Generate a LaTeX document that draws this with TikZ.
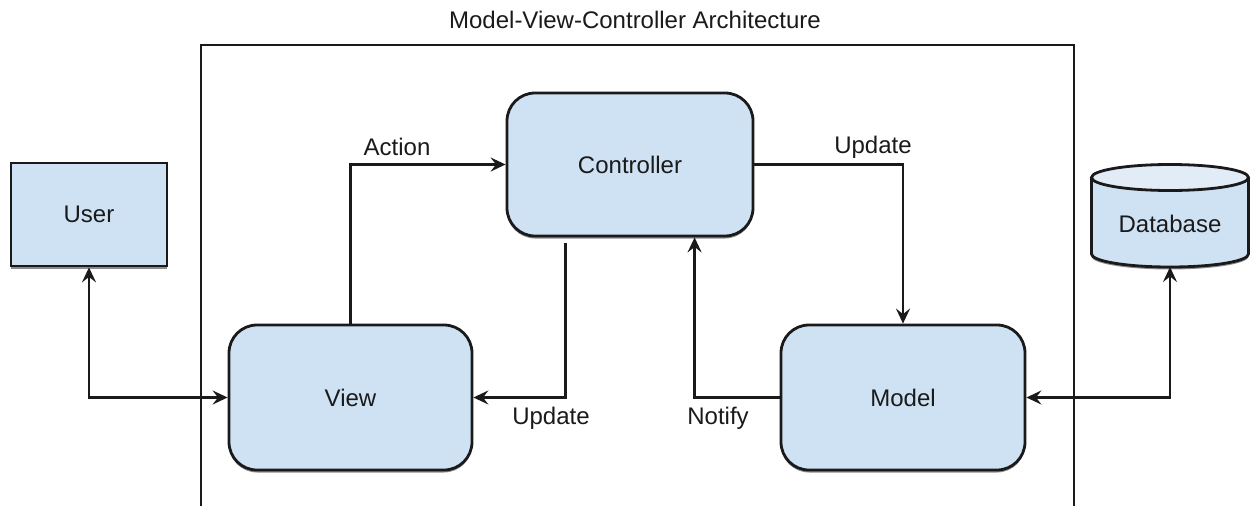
\documentclass[tikz,border=0pt]{standalone}
\usepackage{fontspec}
\setmainfont{Liberation Sans}
\usetikzlibrary{arrows.meta,shadows,calc}
\definecolor{boxfill}{HTML}{CFE2F3}
\definecolor{dbtop}{HTML}{E2ECF7}
\definecolor{ink}{HTML}{1A1A1A}
\begin{document}
\begin{tikzpicture}[x=1pt,y=-1pt,
  every node/.style={font=\fontsize{24}{28}\selectfont, text=ink},
  sh/.style={drop shadow={shadow xshift=0pt,shadow yshift=-2.5pt,opacity=0.45,fill=black}},
  plainbox/.style={draw=ink,line width=2.8pt,fill=boxfill,sh},
  roundbox/.style={plainbox,rounded corners=28pt},
  conn/.style={draw=ink,line width=2.8pt,-{Stealth[length=15pt,width=14pt,inset=5.5pt]}},
  biconn/.style={draw=ink,line width=2.8pt,{Stealth[length=15pt,width=14pt,inset=5.5pt]}-{Stealth[length=15pt,width=14pt,inset=5.5pt]}},
  lbl/.style={inner sep=0pt}
]
\useasboundingbox (0,0) rectangle (1254,506);
\fill[white] (0,0) rectangle (1254,506);

% title and frame
\node[lbl] (title) at (635,20) {Model-View-Controller Architecture};
\draw[ink,line width=2.8pt] (201,520) -- (201,45) -- (1074,45) -- (1074,520);

% boxes
\node[plainbox,minimum width=156pt,minimum height=103pt] (user) at (89,214.5) {User};
\node[roundbox,minimum width=246pt,minimum height=143pt] (ctrl) at (630,164.5) {Controller};
\node[roundbox,minimum width=243pt,minimum height=145pt] (view) at (350.5,397.5) {View};
\node[roundbox,minimum width=244pt,minimum height=145pt] (model) at (903,397.5) {Model};

% database cylinder
\fill[black,opacity=0.45] (1091.5,180) -- (1091.5,256.5) arc[start angle=180,end angle=360,x radius=78.5pt,y radius=13pt] -- (1248.5,180) -- cycle;
\filldraw[fill=boxfill,draw=ink,line width=2.8pt] (1091.5,177.5) -- (1091.5,254) arc[start angle=180,end angle=360,x radius=78.5pt,y radius=13pt] -- (1248.5,177.5);
\filldraw[fill=dbtop,draw=ink,line width=2.8pt] (1170,177.5) ellipse[x radius=78.5pt,y radius=13pt];
\node[lbl] (db) at (1170,224) {Database};
\coordinate (dbbot) at (1170,267);

% connectors
\draw[biconn] (user.south) |- (view.west);
\draw[conn] (view.north) |- (ctrl.west);
\draw[conn] (ctrl.east) -| (model.north);
\draw[conn] ([shift={(60,6)}]ctrl.south west) |- (view.east);
\draw[conn] (model.west) -| ([xshift=189pt]ctrl.south west);
\draw[biconn] (dbbot) |- (model.east);

% labels
\node[lbl] (lact) at (397,147) {Action};
\node[lbl] (lupd1) at (873,147) {Update};
\node[lbl] (lupd2) at (551,418) {Update};
\node[lbl] (lnot) at (718,418) {Notify};
\end{tikzpicture}
\end{document}
